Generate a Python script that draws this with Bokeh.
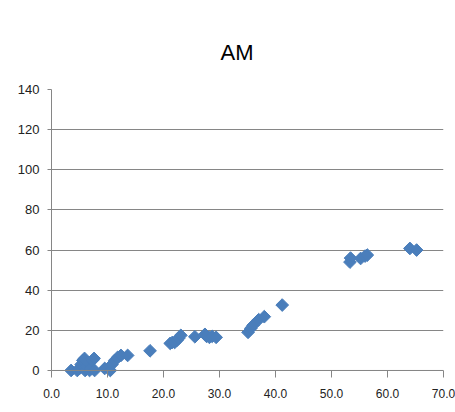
from bokeh.plotting import figure
from bokeh.models import Range1d, FixedTicker, Span, CustomJSTickFormatter
from bokeh.embed import file_html
from bokeh.resources import INLINE

title_text = "AM"
x_ticks = [0, 10, 20, 30, 40, 50, 60, 70]
y_ticks = [0, 20, 40, 60, 80, 100, 120, 140]

xs = [3.5, 4.6, 5.0, 5.3, 5.6, 5.9, 6.0, 6.3, 6.5, 6.8, 7.0, 7.3, 7.6, 7.7,
      9.5, 10.5, 10.8, 11.3, 11.8, 12.4, 13.6, 17.6,
      21.2, 21.6, 22.0, 22.4, 22.7, 23.1, 25.6, 27.4, 27.7, 28.2, 28.7, 29.4,
      35.1, 35.6, 36.0, 37.0, 38.0, 41.2,
      53.3, 53.4, 55.2, 56.0, 56.4, 64.0, 65.2]
ys = [0, 0, 1, 3, 5, 6, 0, 2, 4, 0, 1, 5, 6, 0,
      1, 0, 3, 5, 6.5, 7.5, 7.5, 9.8,
      13.5, 14, 14, 15, 16, 17.5, 16.8, 18, 17, 16.5, 17, 16.5,
      19, 21, 22.5, 25.3, 26.8, 32.6,
      54, 56, 55.8, 57, 57.5, 60.8, 60]

GRAY = "#868686"
FONT = "Liberation Sans"

p = figure(width=455, height=412, output_backend="svg", toolbar_location=None,
           x_range=Range1d(0, 70), y_range=Range1d(-4, 140),
           min_border_left=51, min_border_right=12, min_border_top=89,
           min_border_bottom=34)
p.outline_line_color = None
p.background_fill_color = "white"
p.border_fill_color = "white"

p.title.text = title_text
p.title.align = "left"
p.title.offset = 169
p.title.text_font = FONT
p.title.text_font_size = "22px"
p.title.text_font_style = "normal"
p.title.text_color = "#000000"
p.title.standoff = 50

# horizontal gridlines
p.xgrid.grid_line_color = None
p.ygrid.ticker = FixedTicker(ticks=y_ticks)
p.ygrid.grid_line_color = GRAY
p.ygrid.grid_line_width = 1

# x axis line at y = 0
p.add_layout(Span(location=0, dimension="width", line_color=GRAY, line_width=1))

p.scatter(xs, ys, marker="square", size=9, angle=0.785398,
          fill_color="#4a7ebb", line_color="#4a7ebb", line_width=1)

# axes
p.xaxis.ticker = FixedTicker(ticks=x_ticks)
p.yaxis.ticker = FixedTicker(ticks=y_ticks)
p.xaxis.bounds = (0, 70)
p.yaxis.bounds = (0, 140)
p.xaxis.formatter = CustomJSTickFormatter(code="return tick.toFixed(1);")
for ax in (p.xaxis, p.yaxis):
    ax.axis_line_color = GRAY
    ax.major_tick_line_color = GRAY
    ax.minor_tick_line_color = None
    ax.major_label_text_font = FONT
    ax.major_label_text_color = "#222222"
    ax.major_label_text_font_size = "12px"
p.xaxis.axis_line_color = None
p.xaxis.major_tick_in = 8
p.xaxis.major_tick_out = -1
p.xaxis.major_label_standoff = 10
p.yaxis.major_tick_in = 0
p.yaxis.major_tick_out = 4
p.yaxis.major_label_standoff = 8
p.yaxis.major_label_text_font_size = "13px"

open("out.html", "w").write(file_html(p, INLINE))
